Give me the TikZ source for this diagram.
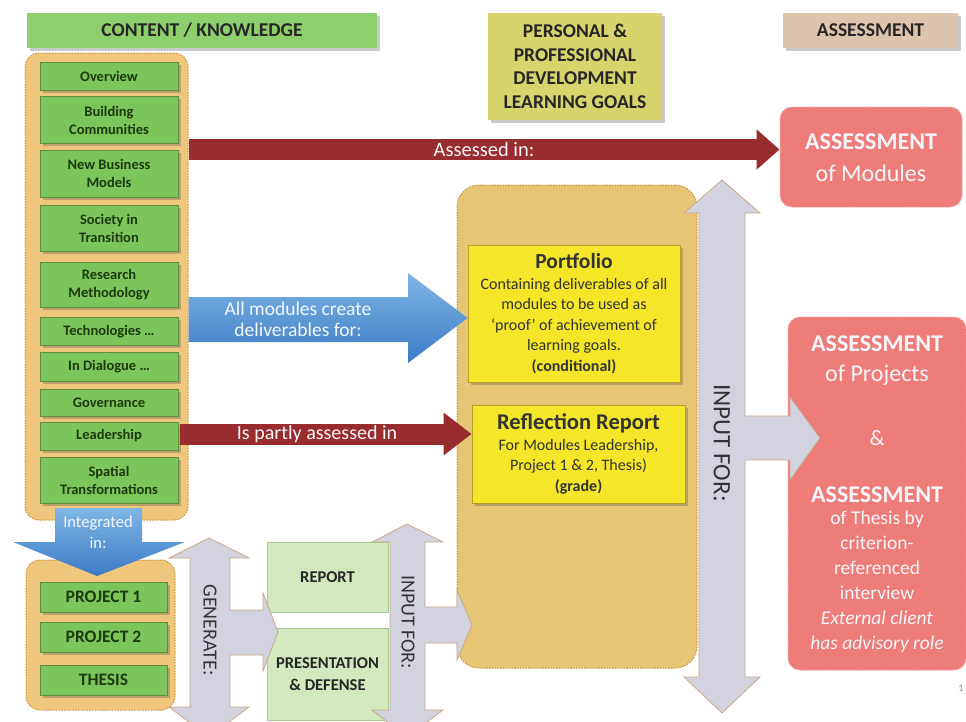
\documentclass[tikz,border=0pt]{standalone}
\usepackage{fontspec}
\setmainfont{Carlito}
\usetikzlibrary{arrows.meta,shadows}
\definecolor{hdrgreen}{HTML}{8DCF6C}
\definecolor{modgreen}{HTML}{7BC55A}
\definecolor{modedge}{HTML}{5E8E3E}
\definecolor{modtext}{HTML}{1D3A0F}
\definecolor{khaki}{HTML}{D6D46C}
\definecolor{tanhdr}{HTML}{DDC4AC}
\definecolor{orfill}{HTML}{EFC77C}
\definecolor{oredge}{HTML}{C9943C}
\definecolor{midfill}{HTML}{E6C675}
\definecolor{yel}{HTML}{F5E62A}
\definecolor{yeledge}{HTML}{B79F22}
\definecolor{redarr}{HTML}{992C2C}
\definecolor{salmon}{HTML}{EE7C79}
\definecolor{salmonedge}{HTML}{F4A4A0}
\definecolor{grayarr}{HTML}{D3D3E0}
\definecolor{grayedge}{HTML}{C9A886}
\definecolor{blueT}{HTML}{80B6E6}
\definecolor{blueB}{HTML}{3C7BC6}
\definecolor{lgreen}{HTML}{D3E8BD}
\definecolor{lgedge}{HTML}{A9C98E}
\definecolor{wtext}{HTML}{F4F6FA}
\begin{document}
\begin{tikzpicture}[x=1pt,y=-1pt,
 shd/.style={drop shadow={shadow xshift=2.5pt,shadow yshift=-2.5pt,opacity=0.3,fill=black!70}},
 header/.style={shd, inner sep=0pt, font=\bfseries\fontsize{19.5}{23.5}\selectfont, text=black!85, align=center},
 container/.style={fill=orfill, draw=oredge, line width=1pt, dash pattern=on 1.6pt off 1.2pt, rounded corners=14pt, inner sep=0pt},
 module/.style={shd, fill=modgreen, draw=modedge, line width=0.6pt, minimum width=138, inner sep=0pt, font=\bfseries\fontsize{14.5}{18}\selectfont, text=modtext, align=center},
 proj/.style={module, minimum width=127, minimum height=30, font=\bfseries\fontsize{17.5}{20}\selectfont},
 lgbox/.style={fill=lgreen, draw=lgedge, line width=0.6pt, inner sep=0pt, minimum width=121, font=\bfseries\fontsize{16.5}{22}\selectfont, text=black!85, align=center},
 yelbox/.style={shd, fill=yel, draw=yeledge, line width=0.8pt, inner sep=0pt, align=center, text=black!80, font=\fontsize{16}{20.5}\selectfont},
 salbox/.style={fill=salmon, draw=salmonedge, line width=1pt, dash pattern=on 1.6pt off 1.2pt, rounded corners=12pt, inner sep=0pt},
 wtxt/.style={text=wtext, inner sep=0pt, align=center},
 redconn/.style={draw=redarr, line width=21pt},
 grayblock/.style={fill=grayarr, draw=grayedge, line width=0.8pt, line join=miter},
 bluefill/.style={top color=blueT, bottom color=blueB},
 rottxt/.style={rotate=-90, inner sep=0pt, font=\fontsize{20}{22}\selectfont, text=black!80}
]
\useasboundingbox (0,0) rectangle (966,721);
\clip (0,0) rectangle (966,721);

% headers
\node[header, fill=hdrgreen, minimum width=350, minimum height=35] (hck) at (202,30.5) {CONTENT / KNOWLEDGE};
\node[header, fill=khaki, minimum width=174, minimum height=107] (hpp) at (575,66.5) {PERSONAL \&\\PROFESSIONAL\\DEVELOPMENT\\LEARNING GOALS};
\node[header, fill=tanhdr, minimum width=175, minimum height=35] (has) at (870.5,30.5) {ASSESSMENT};

% containers
\node[container, minimum width=163, minimum height=467] (leftc) at (106.5,286.5) {};
\node[container, fill=midfill, minimum width=240, minimum height=483, rounded corners=22pt] (midc) at (577,426.5) {};
\node[container, minimum width=149, minimum height=150] (botc) at (100.5,635) {};

% modules
\node[module, minimum height=28] (ov) at (109,76) {Overview};
\node[module, minimum height=47] (bc) at (109,120) {Building\\Communities};
\node[module, minimum height=47] (nbm) at (109,173.5) {New Business\\Models};
\node[module, minimum height=46] (sit) at (109,228) {Society in\\Transition};
\node[module, minimum height=45] (rm) at (109,285) {Research\\Methodology};
\node[module, minimum height=28] (tech) at (109,331.5) {Technologies …};
\node[module, minimum height=29] (dia) at (109,367) {In Dialogue …};
\node[module, minimum height=27] (gov) at (109,403) {Governance};
\node[module, minimum height=28] (lead) at (109,436) {Leadership};
\node[module, minimum height=46] (spt) at (109,480) {Spatial\\Transformations};

% assessment boxes
\node[salbox, minimum width=182, minimum height=100] (asmod) at (871,157) {};
\node[wtxt, font=\bfseries\fontsize{24}{28}\selectfont] (asmodA) at (871,142) {ASSESSMENT};
\node[wtxt, font=\fontsize{24}{28}\selectfont] (asmodB) at (871,173) {of Modules};

\node[salbox, minimum width=178, minimum height=353] (apj) at (877,493.5) {};
\node[wtxt, font=\bfseries\fontsize{24}{28}\selectfont] (apjA) at (877,344) {ASSESSMENT};
\node[wtxt, font=\fontsize{24}{28}\selectfont] (apjB) at (877,375) {of Projects};
\node[wtxt, font=\fontsize{22}{25}\selectfont] (apjC) at (877,438) {\&};
\node[wtxt, font=\bfseries\fontsize{24}{28}\selectfont] (apjD) at (877,495) {ASSESSMENT};
\node[wtxt, font=\fontsize{19.5}{25}\selectfont, anchor=north] (apjE) at (877,511) {of Thesis by\\criterion-\\referenced\\interview\\\textit{External client}\\\textit{has advisory role}};

% portfolio and reflection
\node[yelbox, minimum width=212, minimum height=137] (port) at (574,313.5) {{\bfseries\fontsize{21.5}{22}\selectfont Portfolio}\\Containing deliverables of all\\modules to be used as\\‘proof’ of achievement of\\learning goals.\\\textbf{(conditional)}};
\node[yelbox, minimum width=213, minimum height=98] (refl) at (578.5,454) {{\bfseries\fontsize{22.5}{22}\selectfont Reflection Report}\\For Modules Leadership,\\Project 1 \& 2, Thesis)\\\textbf{(grade)}};

% projects
\node[proj] (p1) at (103.5,597) {PROJECT 1};
\node[proj] (p2) at (103.5,637) {PROJECT 2};
\node[proj] (th) at (103.5,680) {THESIS};

% report boxes
\node[lgbox, minimum height=70] (rep) at (327.5,577) {REPORT};
\node[lgbox, minimum height=92] (pres) at (327.5,674) {PRESENTATION\\\& DEFENSE};

% red connectors
\coordinate (r1s) at (leftc.east |- 0,149.5);
\coordinate (r1e) at (asmod.west |- 0,149.5);
\draw[redconn, -{Triangle[length=23pt,width=39pt]}] (r1s) -- (r1e)
  node[pos=0.5, wtxt, font=\fontsize{20.5}{22}\selectfont] (lbl1) {Assessed in:};
\coordinate (r2s) at (180,434);
\coordinate (r2e) at (refl.west |- 0,434);
\draw[redconn, -{Triangle[length=28pt,width=41pt]}] (r2s) -- (r2e)
  node[pos=0.47, wtxt, font=\fontsize{20}{22}\selectfont] (lbl2) {Is partly assessed in};

% blue arrows
\shade[bluefill] (leftc.east |- 0,297) -- (408,297) -- (408,273) -- (port.west |- 0,318) -- (408,363) -- (408,342) -- (leftc.east |- 0,342) -- cycle;
\node[wtxt, font=\fontsize{19.5}{21}\selectfont] (lbl3) at (298,319) {All modules create\\deliverables for:};
\shade[bluefill] (55,508) -- (142,508) -- (142,542) -- (185,542) -- (97,576) -- (13,542) -- (55,542) -- cycle;
\node[wtxt, font=\fontsize{16.5}{21}\selectfont] (lbl4) at (98,532) {Integrated\\in:};

% gray arrows
\path[grayblock] (722,180) -- (760,213) -- (745,213) -- (745,416) -- (790,416) -- (790,397) -- (820,438) -- (790,480) -- (790,460) -- (745,460) -- (745,677) -- (760,677) -- (722,713) -- (684,677) -- (699,677) -- (699,213) -- (684,213) -- cycle;
\node[rottxt, font=\fontsize{25}{27}\selectfont] (lbl5) at (722,443) {INPUT FOR:};
\path[grayblock] (209,538) -- (249,558) -- (230,558) -- (230,610) -- (263,610) -- (263,593) -- (278,632) -- (263,671) -- (263,655) -- (230,655) -- (230,707) -- (249,707) -- (209,737) -- (169,707) -- (190,707) -- (190,558) -- (169,558) -- cycle;
\node[rottxt] (lbl6) at (210,630) {GENERATE:};
\path[grayblock] (407,524) -- (443,542) -- (425,542) -- (425,607) -- (457,607) -- (457,590) -- (472,625) -- (457,660) -- (457,643) -- (425,643) -- (425,710) -- (443,710) -- (407,737) -- (372,710) -- (390,710) -- (390,542) -- (372,542) -- cycle;
\node[rottxt] (lbl7) at (408,622) {INPUT FOR:};

% page number
\node[inner sep=0pt, font=\fontsize{10}{12}\selectfont, text=black!45] (pg) at (961,688) {1};
\end{tikzpicture}
\end{document}
